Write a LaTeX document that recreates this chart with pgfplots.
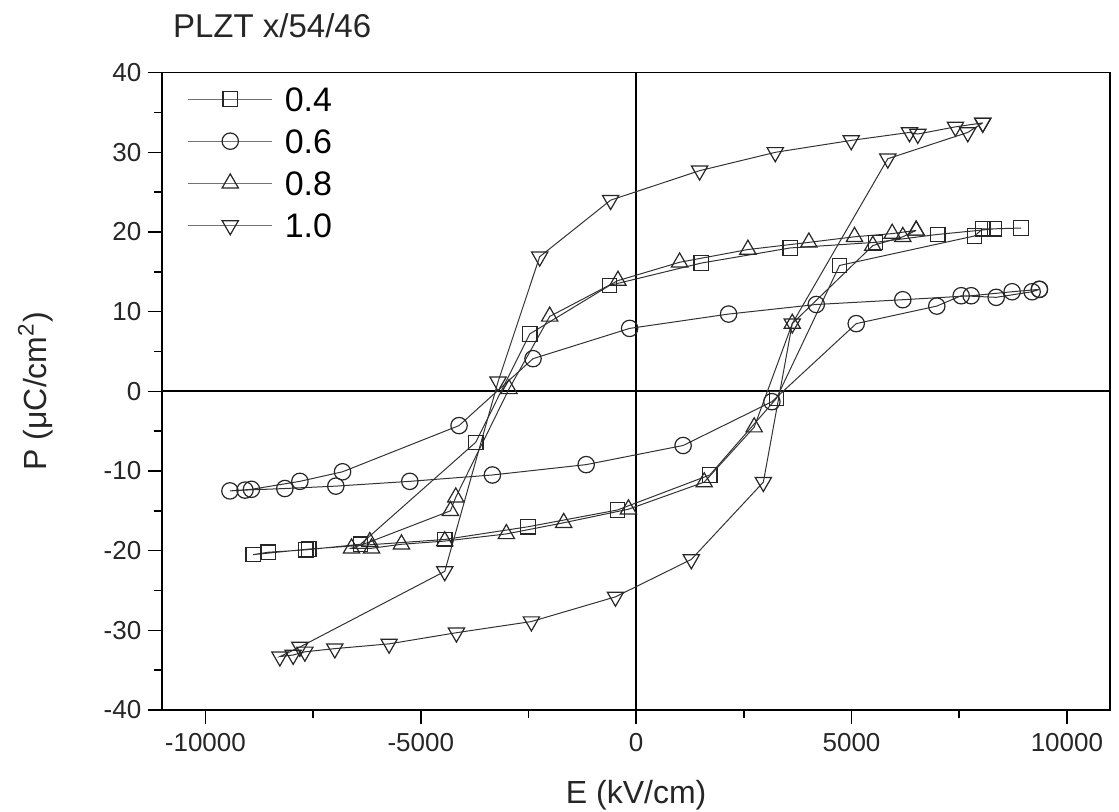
\documentclass[border=0pt]{standalone}
\usepackage{pgfplots}
\pgfplotsset{compat=1.18}
\usepackage{fontspec}
\setmainfont{Liberation Sans}

\pgfplotstableread{
x y
8936 20.5
8317 20.4
7003 19.7
5555 18.7
3577 18.0
1512 16.1
-615 13.3
-2471 7.2
-3724 -6.4
-6400 -19.2
-7668 -19.9
-8542 -20.2
-8890 -20.5
-7600 -19.8
-4443 -18.6
-2510 -17.0
-436 -14.9
1710 -10.5
3255 -0.9
4721 15.8
7853 19.5
8046 20.4
8317 20.4
8936 20.5
}\dataA

\pgfplotstableread{
x y
9361 12.8
8728 12.5
7777 12.0
6190 11.5
4181 10.9
2146 9.7
-151 7.9
-2394 4.1
-4111 -4.3
-6816 -10.1
-7806 -11.3
-8930 -12.3
-9430 -12.5
-9080 -12.4
-8155 -12.2
-6972 -11.9
-5255 -11.3
-3337 -10.5
-1160 -9.2
1090 -6.8
3151 -1.3
5109 8.5
6979 10.7
7545 12.0
8357 11.8
9192 12.5
9361 12.8
}\dataB

\pgfplotstableread{
x y
6500 20.2
5943 19.8
5069 19.4
4009 18.7
2594 17.8
1009 16.2
-422 13.9
-2007 9.4
-2951 0.3
-4188 -13.3
-4311 -15.0
-6183 -18.9
-6607 -19.7
-6143 -19.7
-5448 -19.2
-4443 -18.8
-3013 -17.9
-1682 -16.5
-179 -14.8
1580 -11.4
2740 -4.5
3624 8.5
5494 18.3
6190 19.4
6500 20.2
}\dataC

\pgfplotstableread{
x y
8046 33.7
7412 33.2
6538 32.3
6345 32.5
4993 31.5
3229 30.0
1473 27.7
-592 24.0
-2239 16.9
-3206 1.2
-4443 -22.6
-7806 -32.1
-8271 -33.3
-7962 -33.1
-7690 -32.7
-6995 -32.3
-5735 -31.7
-4172 -30.3
-2432 -28.9
-480 -25.8
1281 -21.1
2953 -11.4
3624 8.5
5842 29.2
7698 32.5
8046 33.7
}\dataD

\begin{document}
\begin{tikzpicture}
\begin{axis}[name=ax, scale only axis, width=473.85pt, height=318.65pt,
  xmin=-11000, xmax=11000, ymin=-40, ymax=40,
  xtick={-10000,-5000,0,5000,10000}, minor xtick={-7500,-2500,2500,7500},
  ytick={-40,-30,...,40}, minor ytick={-35,-25,...,35},
  tick align=outside, major tick length=7pt, minor tick length=4pt,
  xtick pos=bottom, ytick pos=left,
  scaled x ticks=false,
  /pgf/number format/assume math mode=true,
  /pgf/number format/1000 sep={},
  ticklabel style={font=\fontsize{13}{15}\selectfont, text=black!85},
  xticklabel style={yshift=-1pt},
  axis line style={line width=0.8pt},
  every tick/.style={line width=0.8pt, black},
  legend cell align=left,
  legend style={draw=none, fill=none, at={(rel axis cs:0,1)}, anchor=north west,
    xshift=9.5pt, yshift=-5pt, font=\fontsize{17}{20}\selectfont,
    row sep=9.05pt, column sep=6pt,
    nodes={inner sep=0pt, text height=12pt, text depth=0pt}},
  legend image code/.code={\draw[mark repeat=2, mark phase=2, line width=0.55pt, black!55] plot coordinates {(0pt,0pt) (21pt,0pt) (42pt,0pt)};},
  every axis plot/.append style={line width=0.5pt, draw=black!80},
]
\draw[line width=0.9pt] (axis cs:0,-40) -- (axis cs:0,40);
\draw[line width=0.9pt] (axis cs:-11000,0) -- (axis cs:11000,0);
\addplot[mark=square, mark size=3.6pt, mark options={solid, fill=white, draw=black!85, line width=0.6pt}] table {\dataA};
\addlegendentry{0.4}
\addplot[mark=o, mark size=4.1pt, mark options={solid, fill=white, draw=black!85, line width=0.6pt}] table {\dataB};
\addlegendentry{0.6}
\addplot[mark=triangle, mark size=4.7pt, mark options={solid, fill=white, draw=black!85, line width=0.6pt}] table {\dataC};
\addlegendentry{0.8}
\addplot[mark=triangle, mark size=4.7pt, mark options={solid, fill=white, draw=black!85, line width=0.6pt, rotate=180}] table {\dataD};
\addlegendentry{1.0}
\end{axis}
\node[anchor=base west, font=\fontsize{16.5}{18}\selectfont, text=black!85] at ([xshift=1.85pt, yshift=17.7pt]ax.north west) {PLZT x/54/46};
\node[rotate=90, font=\fontsize{16}{18}\selectfont, text=black!85] at ([xshift=-63.5pt]ax.west) {P (μC/cm\textsuperscript{2})};
\node[anchor=base, font=\fontsize{16}{18}\selectfont, text=black!85] at ([yshift=-47pt]ax.south) {E (kV/cm)};
\pgfresetboundingbox
\path ([xshift=-81.15pt, yshift=-51pt]ax.south west) rectangle ([xshift=4.5pt, yshift=36.35pt]ax.north east);
\end{tikzpicture}
\end{document}
